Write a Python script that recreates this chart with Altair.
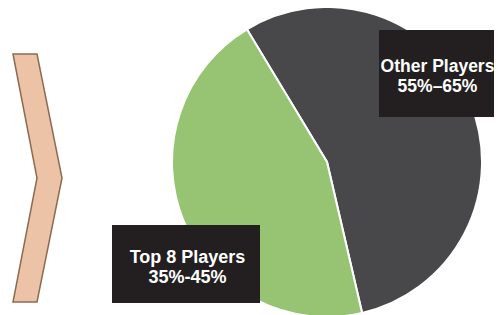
import math
import altair as alt
import pandas as pd

# ---- data ----
categories = ["Other Players", "Top 8 Players"]
shares = [55, 45]
range_labels = ["55%\u201365%", "35%-45%"]
slice_colors = ["#48484a", "#97c472"]

# chevron outline (image pixel coords): y, left x, right x
chev_y = [54, 178, 302]
chev_x_left = [13, 37, 13]
chev_x_right = [37, 62, 37]

# ---- layout (image pixel coordinates) ----
M = 8  # page margin
W, H = 502 - 2 * M, 315 - M
CX, CY, R = 327, 162, 155
START_DEG = 328.9

xs = alt.Scale(domain=[M, M + W], range=[0, W])
ys = alt.Scale(domain=[M, M + H], range=[0, H])

pie_df = pd.DataFrame({"category": categories, "share": shares,
                       "order": list(range(len(categories)))})
chev_df = pd.DataFrame({"y": chev_y, "x": chev_x_left, "x2": chev_x_right})
lab_df = pd.DataFrame({"category": categories, "rng": range_labels})
lab_df["text"] = lab_df["category"] + "\n" + lab_df["rng"]

start = math.radians(START_DEG)
pie = alt.Chart(pie_df).mark_arc(radius=R, stroke="white", strokeWidth=2).encode(
    theta=alt.Theta("share:Q", stack=True,
                    scale=alt.Scale(range=[start, start + 2 * math.pi])),
    color=alt.Color("category:N", legend=None,
                    scale=alt.Scale(domain=categories, range=slice_colors)),
    order=alt.Order("order:Q"),
    x=alt.value(CX - M),
    y=alt.value(CY - M),
)

chevron = alt.Chart(chev_df).mark_area(
    orient="horizontal", fill="#ecc3a7", stroke="#8c6b52", strokeWidth=1.5
).encode(
    y=alt.Y("y:Q", scale=ys, axis=None),
    x=alt.X("x:Q", scale=xs, axis=None),
    x2="x2:Q",
)

# box x0, y0, x1, y1, text centre x, first baseline y, font size
boxes = {
    "Other Players": (379, 30, 505, 117, 437.5, 72, 17.5),
    "Top 8 Players": (112, 225, 260, 303, 187.5, 263, 18),
}

layers = [chevron, pie]
for cat, (bx0, by0, bx1, by1, tx, ty, fs) in boxes.items():
    sub = alt.Chart(lab_df).transform_filter(alt.datum.category == cat)
    rect = sub.mark_rect(color="#231f20").encode(
        x=alt.value(bx0 - M), x2=alt.value(bx1 - M),
        y=alt.value(by0 - M), y2=alt.value(by1 - M),
    )
    txt = sub.mark_text(
        font="Liberation Sans", fontSize=fs, fontWeight="bold", color="white",
        align="center", baseline="alphabetic", lineBreak="\n", lineHeight=19.5,
    ).encode(text="text:N", x=alt.value(tx - M), y=alt.value(ty - M))
    layers += [rect, txt]

chart = alt.layer(*layers).properties(
    width=W, height=H, padding=0, autosize=alt.AutoSizeParams(type="none"),
    background="white",
).configure_view(stroke=None)

chart.save("out.html", embed_options={"renderer": "svg", "actions": False})
